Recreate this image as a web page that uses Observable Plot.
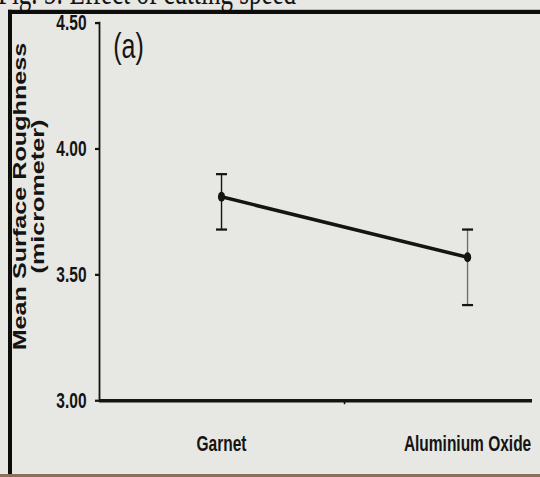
<!DOCTYPE html>
<html>
<head>
<meta charset="utf-8">
<script src="https://cdn.jsdelivr.net/npm/d3@7"></script>
<script src="https://cdn.jsdelivr.net/npm/@observablehq/plot@0.6"></script>
<style>
  html, body { margin: 0; padding: 0; background: #e7e7e3; }
  #page { position: relative; width: 540px; height: 477px; overflow: hidden; background: #e7e7e3; }
  #stretch { position: absolute; left: 0; top: 0; width: 540px; height: 341px;
             transform: scaleY(1.3988); transform-origin: 0 0; }
  #title { position: absolute; left: -2px; top: -18px; font: 25px/25px "Liberation Serif", "Times New Roman", serif;
           color: #141414; white-space: nowrap; }
  #border { position: absolute; left: 8px; top: 7px; right: -10px; bottom: -20px;
            border-top: 3px solid #0c0c0c; border-left: 4px solid #0c0c0c; }
  #chart { position: absolute; left: 0; top: 0; }
  #bottomline { position: absolute; left: 0; right: 0; top: 474px; height: 3px; background: #8c6f55; }
</style>
</head>
<body>
<div id="page">
  <div id="stretch">
    <div id="title">Fig. 5: Effect of cutting speed</div>
    <div id="border"></div>
    <div id="chart"></div>
  </div>
  <div id="bottomline"></div>
</div>
<script>
// ---- data ----
const categories = ["Garnet", "Aluminium Oxide"];
const meanRoughness = [3.81, 3.57];
const upperBound = [3.90, 3.68];
const lowerBound = [3.68, 3.38];
const yTicks = [3.00, 3.50, 4.00, 4.50];
const yLabel = "Mean Surface Roughness\n(micrometer)";
const panelLabel = "(a)";

const table = categories.map((c, i) => ({
  i, cat: c, mean: meanRoughness[i], hi: upperBound[i], lo: lowerBound[i]
}));
const caps = table.flatMap(d => [{i: d.i, cat: d.cat, v: d.hi}, {i: d.i, cat: d.cat, v: d.lo}]);

const capSymbol = { draw(ctx) { ctx.moveTo(-5.5, 0); ctx.lineTo(5.5, 0); } };
const ink = "#141414";
const sans = "'Liberation Sans', Arial, Helvetica, sans-serif";

const chart = Plot.plot({
  width: 540,
  height: 341,
  marginLeft: 99,
  marginRight: 8,
  marginTop: 16,
  marginBottom: 55,
  style: { background: "transparent", color: ink, fontFamily: sans },
  x: { domain: [-0.496, 1.264] },
  y: { domain: [3, 4.5] },
  marks: [
    Plot.axisY({ ticks: yTicks, tickFormat: d3.format(".2f"), tickSize: 4, tickPadding: 9,
                 fontSize: 15.5, fontWeight: "bold", label: null, strokeWidth: 1.6 }),
    Plot.axisX({ ticks: categories.map((_, i) => i), tickFormat: i => categories[i], tickSize: 0,
                 tickPadding: 25, fontSize: 15.5, fontWeight: "bold", label: null }),
    Plot.axisX({ ticks: [0.5], tickFormat: () => "", tickSize: 3, label: null, strokeWidth: 1.6 }),
    Plot.frame({ anchor: "left", stroke: ink, strokeWidth: 1.8 }),
    Plot.ruleY([3], { stroke: ink, strokeWidth: 2.6 }),
    Plot.ruleX(table, { x: "i", y1: "lo", y2: "hi",
                        stroke: d => d.cat === categories[0] ? ink : "#707070", strokeWidth: 1.4 }),
    Plot.dot(caps, { x: "i", y: "v", symbol: capSymbol, fill: "none", stroke: ink, strokeWidth: 1.6 }),
    Plot.line(table, { x: "i", y: "mean", stroke: ink, strokeWidth: 2.6 }),
    Plot.dot(table, { x: "i", y: "mean", r: 3.6, fill: ink, stroke: "none" }),
    Plot.text([yLabel], { frameAnchor: "left", rotate: -90, dx: -70, dy: -11, fontSize: 18,
                          fontWeight: "bold", lineHeight: 1.0, textAnchor: "middle", lineAnchor: "middle", fill: ink }),
    Plot.text([panelLabel], { frameAnchor: "top-left", dx: 29, dy: 17, fontSize: 25,
                              textAnchor: "middle", lineAnchor: "middle", fill: ink })
  ]
});
document.getElementById("chart").appendChild(chart);
</script>
</body>
</html>
